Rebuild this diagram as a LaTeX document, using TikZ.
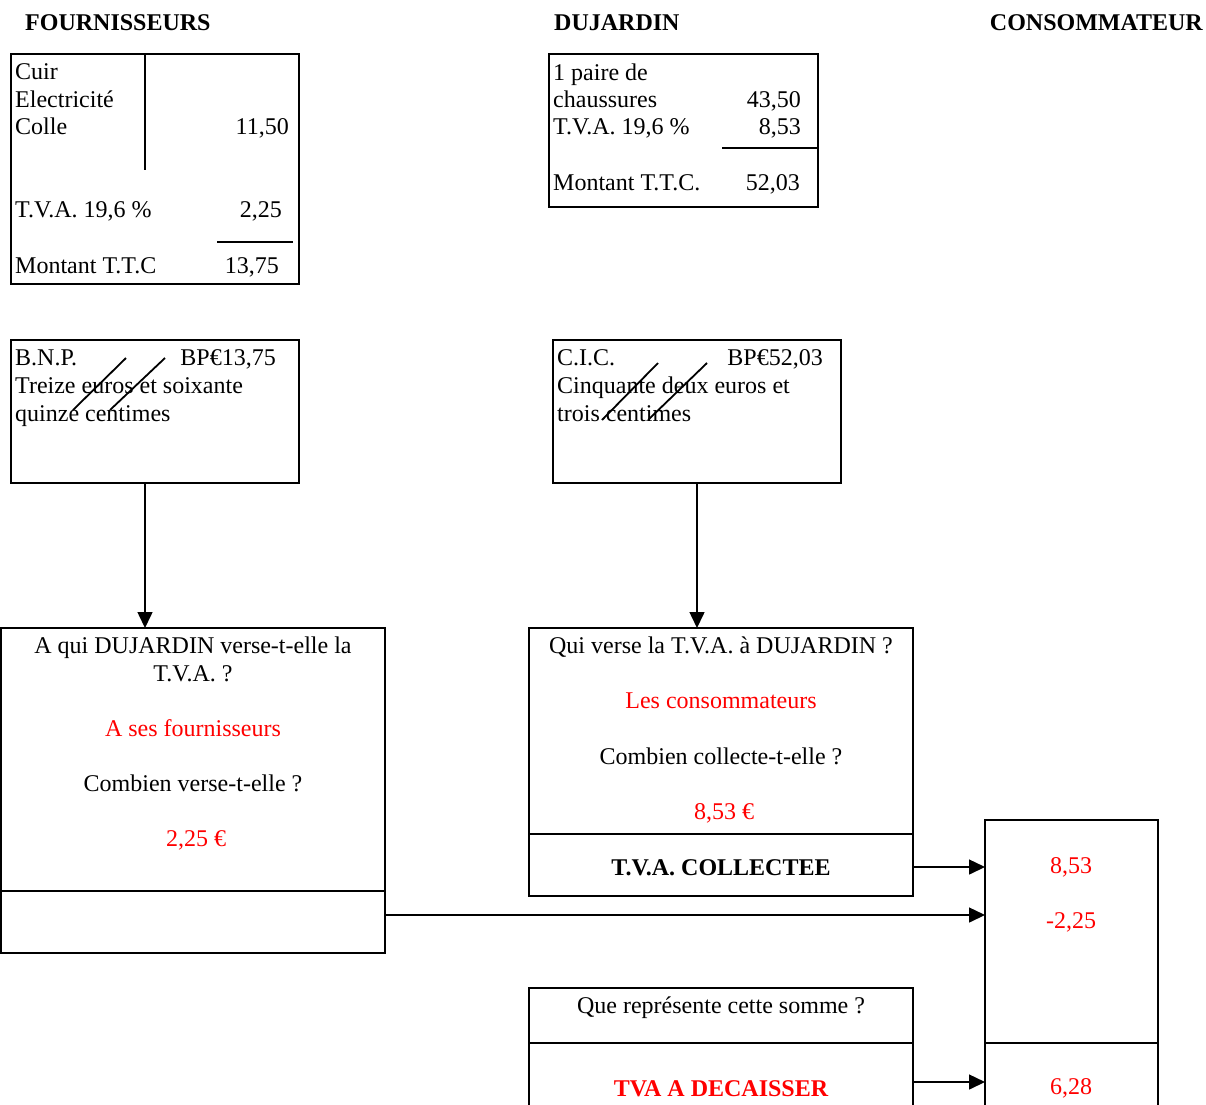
\documentclass[tikz,border=0pt]{standalone}
\usepackage{fontspec}
\setmainfont{Liberation Serif}
\usetikzlibrary{arrows.meta}
\begin{document}
\begin{tikzpicture}[x=1pt,y=-1pt,
  box/.style={draw, line width=2.3pt, inner sep=0pt, outer sep=0pt, anchor=north west},
  rule/.style={line width=2.3pt},
  strike/.style={line width=1.8pt},
  lt/.style={inner sep=0pt, anchor=base west, font=\fontsize{24}{28}\selectfont},
  rt/.style={inner sep=0pt, anchor=base east, font=\fontsize{24}{28}\selectfont},
  ct/.style={inner sep=0pt, anchor=base, font=\fontsize{24}{28}\selectfont},
  hd/.style={inner sep=0pt, anchor=base west, font=\fontsize{24}{28}\selectfont\bfseries},
  red/.style={text=red},
  arr/.style={line width=1.5pt, -{Triangle[length=16pt,width=15pt]}}
]
\useasboundingbox (0,0) rectangle (1206,1104);
\clip (0,0) rectangle (1206,1104);

% headers
\node[hd] (h1) at (25,30) {FOURNISSEURS};
\node[hd] (h2) at (554,30) {DUJARDIN};
\node[hd, anchor=base east] (h3) at (1203,30) {CONSOMMATEUR};

% supplier invoice
\node[box, minimum width=288, minimum height=230] (fa) at (11,54) {};
\draw[rule] (145,54) -- (145,170);
\draw[rule] (217,242) -- (293,242);
\node[lt] (fa1) at (15,79) {Cuir};
\node[lt] (fa2) at (15,107) {Electricité};
\node[lt] (fa3) at (15,134) {Colle};
\node[rt] (fa4) at (289,134) {11,50};
\node[lt] (fa5) at (15,217) {T.V.A. 19,6 \%};
\node[rt] (fa6) at (282,217) {2,25};
\node[lt] (fa7) at (15,273) {Montant T.T.C};
\node[rt] (fa8) at (279,273) {13,75};

% Dujardin invoice
\node[box, minimum width=269, minimum height=153] (fb) at (549,54) {};
\draw[rule] (722,148) -- (818,148);
\node[lt] (fb1) at (553,80) {1 paire de};
\node[lt] (fb2) at (553,107) {chaussures};
\node[rt] (fb3) at (801,107) {43,50};
\node[lt] (fb4) at (553,134) {T.V.A. 19,6 \%};
\node[rt] (fb5) at (801,134) {8,53};
\node[lt] (fb6) at (553,190) {Montant T.T.C.};
\node[rt] (fb7) at (800,190) {52,03};

% BNP cheque
\node[box, minimum width=288, minimum height=143] (c) at (11,340) {};
\node[lt] (c1) at (15,365) {B.N.P.};
\node[rt] (c2) at (276,365) {BP€13,75};
\node[lt] (c3) at (15,393) {Treize euros et soixante};
\node[lt] (c4) at (15,421) {quinze centimes};
\draw[strike] (73,410) -- (126,358);
\draw[strike] (110,410) -- (165,358);

% CIC cheque
\node[box, minimum width=288, minimum height=143] (d) at (553,340) {};
\node[lt] (d1) at (557,365) {C.I.C.};
\node[rt] (d2) at (823,365) {BP€52,03};
\node[lt] (d3) at (557,393) {Cinquante deux euros et};
\node[lt] (d4) at (557,421) {trois centimes};
\draw[strike] (602,420) -- (658,363);
\draw[strike] (648,420) -- (707,363);

% question boxes
\node[box, minimum width=384, minimum height=263] (et) at (1,628) {};
\node[box, minimum width=384, minimum height=62] (eb) at (1,891) {};
\node[ct] (e1) at (193,653) {A qui DUJARDIN verse-t-elle la};
\node[ct] (e2) at (193,681) {T.V.A. ?};
\node[ct, red] (e3) at (193,736) {A ses fournisseurs};
\node[ct] (e4) at (193,791) {Combien verse-t-elle ?};
\node[ct, red] (e5) at (196,846) {2,25 €};

\node[box, minimum width=384, minimum height=206] (ft) at (529,628) {};
\node[box, minimum width=384, minimum height=62] (fb0) at (529,834) {};
\node[ct] (f1) at (721,653) {Qui verse la T.V.A. à DUJARDIN ?};
\node[ct, red] (f2) at (721,708) {Les consommateurs};
\node[ct] (f3) at (721,764) {Combien collecte-t-elle ?};
\node[ct, red] (f4) at (724,819) {8,53 €};
\node[ct, font=\fontsize{24}{28}\selectfont\bfseries] (f5) at (721,875) {T.V.A. COLLECTEE};

\node[box, minimum width=384, minimum height=55] (ht) at (529,988) {};
\node[box, minimum width=384, minimum height=100] (hb) at (529,1043) {};
\node[ct] (hq) at (721,1013) {Que représente cette somme ?};
\node[ct, red, font=\fontsize{24}{28}\selectfont\bfseries] (ha) at (721,1096) {TVA A DECAISSER};

% consumer box
\node[box, minimum width=173, minimum height=223] (gt) at (985,820) {};
\node[box, minimum width=173, minimum height=100] (gb) at (985,1043) {};
\node[ct, red] (g1) at (1071,873) {8,53};
\node[ct, red] (g2) at (1071,928) {-2,25};
\node[ct, red] (g3) at (1071,1094) {6,28};

% connectors
\coordinate (cs) at (145,483);
\draw[arr] (cs) -- (cs |- et.north);
\coordinate (ds) at (697,483);
\draw[arr] (ds) -- (ds |- ft.north);
\coordinate (fe) at (913,867);
\draw[arr] (fe) -- (fe -| gt.west);
\coordinate (ee) at (385,915);
\draw[arr] (ee) -- (ee -| gt.west);
\coordinate (he) at (913,1082);
\draw[arr] (he) -- (he -| gb.west);
\end{tikzpicture}
\end{document}
